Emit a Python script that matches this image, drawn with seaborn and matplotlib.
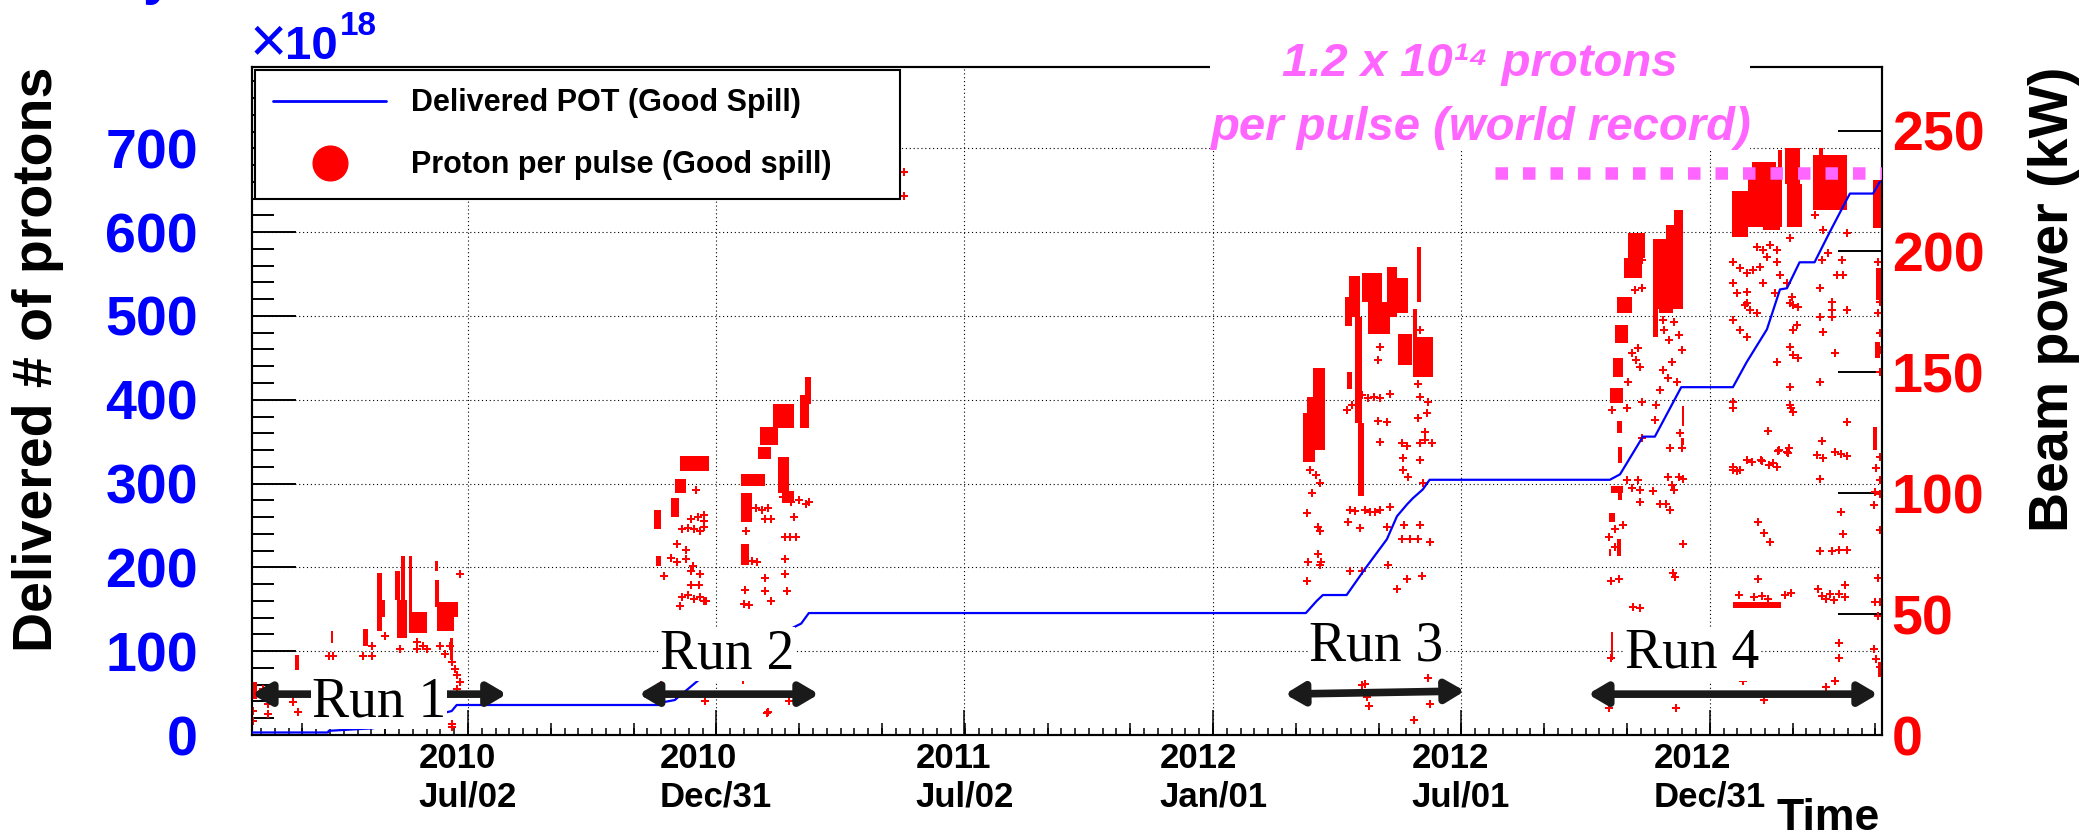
import numpy as np
import pandas as pd
import matplotlib
matplotlib.use("Agg")
import matplotlib.pyplot as plt
from matplotlib.lines import Line2D
from matplotlib.ticker import MultipleLocator, FixedLocator, NullLocator
import seaborn as sns

# ---------------------------------------------------------------------------
# Data (x = days since 2010-01-01)
# ---------------------------------------------------------------------------
EPOCH = pd.Timestamp("2010-01-01")

tick_dates = ["2010-07-02", "2010-12-31", "2011-07-02",
              "2012-01-01", "2012-07-01", "2012-12-31"]
tick_labels = ["2010\nJul/02", "2010\nDec/31", "2011\nJul/02",
               "2012\nJan/01", "2012\nJul/01", "2012\nDec/31"]

# cumulative delivered protons on target (x 1e18)
pot_day = [23, 79, 79.6, 112, 146, 170, 173.7, 324.5, 326, 334, 352.4, 389,
           427, 432.6, 798, 806, 810.5, 828, 841.4, 857.6, 865, 872.3, 876.7,
           884, 889, 1021.5, 1029, 1045.8, 1054.6, 1074, 1112, 1122, 1137,
           1146.6, 1151.7, 1161, 1172, 1183, 1193, 1198, 1215, 1220]
pot_1e18 = [3, 3, 5, 8, 19, 28.6, 35.8, 35.8, 39.3, 41.7, 66.7, 102,
            133, 145.5, 145.5, 160, 167, 167, 198, 233.6, 261, 275, 282.5,
            293, 304.5, 304.5, 311, 356, 356, 415, 415, 444.6, 484,
            531.6, 533, 564, 564, 599.5, 630.5, 646, 646, 660]

# dense groups of good spills: (first day, last day, low kW, high kW)
run1_clusters = [(23, 27, 15, 22), (55, 58, 27, 33), (81, 83, 38, 43),
                 (104.5, 108.5, 37, 44), (115, 119, 43, 67), (115, 121, 49, 56),
                 (128, 132, 56, 68), (129.5, 137, 40, 56), (133, 135.5, 42, 74),
                 (138.5, 140.5, 42, 74), (139, 152, 42, 51), (157.5, 160, 68, 72),
                 (157.5, 161, 53, 64), (159, 172, 43, 55), (168.5, 175, 49, 55),
                 (168.5, 171, 31, 40)]
run2_clusters = [(319, 324, 85, 93), (320, 324, 70, 74), (331, 337.5, 90, 98),
                 (334, 342, 100, 106), (338, 359, 109, 115.5), (383, 400, 103, 108),
                 (383, 391, 88, 100), (383, 388.5, 70.5, 79), (395, 404.5, 114, 119),
                 (396.5, 410, 120, 127.5), (406, 421.5, 127, 137), (410, 418, 100, 115),
                 (413, 421.5, 96, 101), (426, 432.5, 127, 140.5), (429.5, 434, 137, 148)]
run3_clusters = [(796, 801, 113, 133), (799, 804.5, 113, 140), (803, 812, 118, 152),
                 (826.5, 832, 169, 181), (830, 837.5, 173, 190), (834, 839, 129, 173),
                 (836.5, 841, 99, 129), (839, 854, 179, 191), (843.5, 860, 166, 179),
                 (857.5, 865, 173, 193.5), (862, 873, 174.5, 189), (865.5, 876, 153, 166),
                 (876.5, 891.5, 148, 164.5), (880, 883, 179, 202),
                 (876.5, 879.5, 164.5, 176), (828.5, 832, 143, 150)]
run4_clusters = [(1021, 1025, 88, 92), (1022, 1031, 100, 103), (1026.5, 1029.5, 74, 81),
                 (1022, 1023.5, 31, 42.5), (1021, 1022.5, 74, 77),
                 (1021.5, 1031, 137.5, 143.5), (1023.5, 1031, 148, 156),
                 (1025, 1035, 162, 169.5), (1027, 1038, 174.5, 181),
                 (1032, 1045, 189, 197.5), (1035, 1047, 197.5, 207.5),
                 (1026.5, 1030.5, 125, 130), (1027.5, 1030.5, 112.5, 119),
                 (1027.5, 1030.5, 97, 103),
                 (1053, 1057, 164.5, 205), (1057, 1075, 176, 191), (1056, 1066, 191, 205),
                 (1063, 1075, 191, 211), (1069, 1075.2, 205, 217), (1058, 1068, 174.5, 181),
                 (1074.5, 1076, 128, 136), (1074, 1076, 120, 123),
                 (1111, 1123, 206, 225), (1123, 1137, 210, 232.7), (1126, 1144, 226.5, 237),
                 (1134, 1146.5, 209, 235), (1145, 1148, 210, 242), (1150, 1161, 228, 243),
                 (1151.5, 1162.5, 210, 228), (1171, 1196, 217, 240), (1175, 1178, 240, 243),
                 (1215, 1222, 209.5, 229.5), (1217.5, 1220.5, 180, 193),
                 (1216.5, 1220, 156, 162.5), (1215, 1218, 118, 127.5),
                 (1112, 1147, 52.5, 55), (1219, 1221, 24, 30)]

# individual good spills: (day, kW)
run1_spills = [(23.7, 9.9), (23.7, 5.8), (31.1, 19.0), (31.1, 17.7), (34.8, 12.8),
               (34.8, 8.7), (53.1, 13.6), (56.8, 9.5), (79.6, 32.6), (82.6, 32.6),
               (104.6, 32.6), (111.2, 36.7), (111.2, 32.6), (120.8, 40.8), (131.8, 35.5),
               (144.3, 38.4), (144.3, 35.5), (148.7, 36.7), (151.7, 35.5), (161.2, 36.7),
               (164.9, 33.4), (168.6, 36.7), (176.0, 66.4), (170.1, 30.1), (172.3, 27.2),
               (173.7, 24.8), (176.0, 21.9), (173.7, 19.0), (170.1, 4.5), (170.5, 3.5)]
run2_spills = [(325.9, 65.6), (331.2, 73.4), (335.5, 71.4), (339.2, 85.0), (343.6, 85.8),
               (348.0, 85.0), (352.4, 84.2), (355.4, 86.2), (345.8, 89.5), (351.0, 90.3),
               (355.4, 88.7), (335.5, 78.8), (342.1, 76.7), (342.1, 72.6), (347.3, 70.1),
               (352.4, 66.4), (345.8, 68.0), (339.2, 57.0), (343.6, 57.8), (348.0, 56.1),
               (352.4, 57.0), (355.4, 55.3), (345.8, 61.9), (351.7, 61.9), (337.7, 53.2),
               (349.5, 101.5), (355.4, 91.2), (356.9, 55.3), (385.5, 59.8), (384.8, 54.0),
               (388.4, 53.6), (386.2, 84.2), (390.6, 71.8), (394.3, 71.4), (393.6, 94.0),
               (398.0, 93.2), (402.4, 94.0), (400.2, 89.5), (404.6, 89.5), (400.2, 64.8),
               (400.2, 59.4), (404.6, 55.3), (414.9, 81.7), (418.6, 81.7), (423.0, 81.7),
               (414.9, 73.0), (414.9, 66.4), (416.4, 59.4), (421.5, 90.3), (425.2, 97.4),
               (430.4, 95.7), (432.6, 96.5), (419.3, 96.5), (413.4, 98.6),
               (324.1, 21.0), (334.8, 16.1), (356.1, 14.0), (384.0, 22.7), (402.8, 9.5),
               (418.2, 14.0), (401.7, 8.9)]
run3_spills = [(808.3, 104.4), (802.4, 100.2), (798.7, 92.0), (806.8, 86.2), (808.3, 84.2),
               (799.5, 71.4), (809.0, 71.4), (798.7, 63.5), (806.8, 74.7), (801.0, 109.7),
               (805.4, 107.7), (830.4, 93.2), (829.0, 87.9), (837.7, 85.8), (830.4, 67.7),
               (839.2, 67.7), (834.0, 92.8), (841.4, 93.2), (845.0, 92.4), (848.8, 92.4),
               (852.4, 93.2), (839.2, 140.7), (843.6, 139.4), (848.0, 139.9), (852.4, 139.4),
               (859.8, 141.0), (828.2, 134.5), (831.9, 136.6), (850.9, 155.0), (852.4, 160.5),
               (850.9, 130.0), (852.4, 121.3), (857.6, 129.5), (859.8, 94.5), (857.6, 86.2),
               (858.4, 70.5), (865.0, 60.2), (868.6, 120.9), (872.3, 119.6), (869.3, 114.7),
               (869.3, 109.7), (873.0, 106.8), (868.6, 80.9), (870.1, 87.0), (872.3, 64.4),
               (874.5, 80.9), (880.4, 145.2), (880.4, 131.2), (881.8, 139.9), (881.8, 167.5),
               (881.8, 120.9), (885.5, 122.1), (890.6, 120.9), (881.8, 113.9), (885.5, 125.4),
               (887.0, 133.3), (887.7, 137.8), (887.7, 149.8), (884.0, 155.1), (881.8, 87.0),
               (880.4, 80.9), (889.2, 80.0), (883.3, 65.6), (884.0, 104.4), (887.7, 23.5),
               (841.4, 21.0), (842.9, 15.7), (839.2, 20.6), (844.3, 12.0), (877.4, 6.2),
               (889.2, 12.8), (808.3, 70.5)]
run4_spills = [(1023.0, 134.5), (1034.0, 135.3), (1034.8, 146.0), (1037.7, 158.0),
               (1040.6, 155.1), (1043.6, 152.2), (1040.0, 184.0), (1045.0, 184.8),
               (1042.0, 160.0), (1034.0, 105.6), (1037.7, 102.3), (1043.6, 101.5),
               (1045.0, 137.8), (1036.3, 194.3), (1041.4, 191.4), (1045.0, 196.4),
               (1038.5, 52.8), (1043.6, 52.4), (1043.6, 96.5), (1042.0, 105.6),
               (1036.3, 38.0), (1022.3, 31.8), (1020.8, 11.1), (1022.3, 63.5),
               (1027.9, 64.4), (1020.8, 81.7), (1025.2, 77.6), (1025.2, 85.0),
               (1031.0, 87.0), (1053.6, 101.0), (1055.8, 136.6), (1058.3, 142.7),
               (1060.5, 151.0), (1064.2, 147.7), (1067.1, 154.3), (1070.8, 146.0),
               (1061.2, 167.5), (1064.8, 163.4), (1068.5, 170.8), (1072.2, 165.4),
               (1060.5, 171.6), (1074.5, 159.2), (1073.0, 125.0), (1074.5, 118.8),
               (1065.6, 118.8), (1054.6, 130.4), (1045.0, 123.0), (1064.0, 106.8),
               (1067.0, 103.5), (1069.0, 101.5), (1072.2, 106.8), (1062.7, 95.7),
               (1065.6, 93.2), (1058.3, 95.7), (1067.9, 67.2), (1075.2, 79.2),
               (1075.2, 106.0), (1070.0, 11.1), (1069.4, 65.2), (1020.1, 16.0),
               (1112.0, 137.8), (1112.0, 135.3), (1126.0, 113.0), (1133.3, 113.4),
               (1141.4, 112.6), (1144.3, 111.0), (1112.0, 109.7), (1117.0, 109.7),
               (1122.3, 113.9), (1137.7, 125.8), (1145.0, 117.6), (1152.4, 116.7),
               (1153.9, 144.0), (1153.9, 136.6), (1156.1, 133.7), (1144.3, 154.3),
               (1153.9, 178.6), (1159.8, 177.0), (1156.1, 167.5), (1156.1, 157.2),
               (1159.8, 155.9), (1112.0, 195.5), (1117.0, 193.0), (1122.3, 191.0),
               (1112.0, 186.9), (1115.0, 182.8), (1122.3, 183.2), (1122.3, 178.6),
               (1120.8, 177.8), (1124.5, 175.7), (1112.0, 171.6), (1117.0, 167.5),
               (1122.3, 164.6), (1129.6, 174.5), (1129.6, 201.7), (1134.0, 200.5),
               (1137.0, 197.6), (1126.6, 192.2), (1131.8, 193.5), (1134.0, 186.9),
               (1139.2, 202.6), (1144.3, 200.5), (1144.3, 195.5), (1146.6, 190.2),
               (1142.9, 182.8), (1156.1, 177.8), (1159.0, 169.6), (1153.9, 160.5),
               (1153.9, 205.4), (1151.7, 186.9), (1155.4, 181.1), (1177.4, 196.4),
               (1181.8, 199.3), (1192.1, 196.4), (1175.9, 184.8), (1184.8, 179.0),
               (1184.8, 175.7), (1184.8, 172.9), (1188.5, 190.2), (1193.0, 190.2),
               (1195.8, 175.7), (1175.9, 172.9), (1178.1, 166.7), (1175.9, 146.0),
               (1187.0, 158.0), (1195.8, 129.5), (1195.8, 207.5), (1172.3, 214.9),
               (1178.1, 208.7), (1187.0, 117.2), (1191.4, 116.3), (1195.8, 115.5),
               (1173.7, 115.9), (1178.1, 114.7), (1176.0, 106.0), (1177.4, 121.7),
               (1151.7, 117.2), (1145.8, 118.0), (1153.2, 118.8), (1154.6, 135.3),
               (1190.0, 76.7), (1193.0, 83.0), (1191.4, 92.4), (1184.8, 75.9),
               (1176.0, 75.9), (1195.8, 76.7), (1194.3, 56.9), (1194.3, 61.9),
               (1130.4, 87.9), (1134.8, 83.7), (1139.2, 80.0), (1130.4, 64.4),
               (1116.4, 57.8), (1127.4, 56.9), (1133.3, 57.3), (1137.7, 56.1),
               (1150.2, 57.8), (1154.6, 58.6), (1174.5, 60.2), (1177.4, 57.3),
               (1180.4, 56.1), (1183.3, 58.2), (1186.3, 55.7), (1190.0, 58.2),
               (1119.3, 22.3), (1134.8, 14.4), (1190.0, 31.8), (1190.0, 38.0),
               (1187.0, 22.3), (1180.4, 19.8), (1112.0, 111.0), (1115.0, 109.3),
               (1132.6, 113.9), (1138.5, 111.8), (1218.6, 195.5), (1220.0, 179.0),
               (1218.6, 174.5), (1220.0, 166.3), (1220.0, 150.2), (1220.0, 115.1),
               (1220.0, 105.6), (1216.4, 100.7), (1215.6, 95.3), (1217.1, 110.6),
               (1220.0, 99.8), (1220.0, 84.6), (1220.0, 54.9), (1218.6, 49.1),
               (1218.6, 64.8), (1216.4, 54.9), (1220.0, 159.2), (1215.6, 35.5),
               (1217.1, 31.4), (1220.0, 28.1)]
stray_spills = [(502.4, 233.0), (502.4, 222.8)]

run_names = ["Run 1", "Run 2", "Run 3", "Run 4"]
run_first_day = [23.2, 307.6, 782.6, 1005.4]
run_last_day = [210.5, 440.0, 914.9, 1218.6]
run_label_day = [67.1, 323.0, 800.2, 1032.6]
run_label_kw = [7.8, 27.6, 30.9, 27.8]

record_kw = 232.3          # 1.2e14 protons per pulse
record_from_day = 937.0

# ---------------------------------------------------------------------------
# Style
# ---------------------------------------------------------------------------
sns.set_style("white")
plt.rcParams["font.family"] = ["Liberation Sans", "DejaVu Sans"]
plt.rcParams.update({
    "axes.edgecolor": "black", "axes.linewidth": 1.5,
    "xtick.color": "black", "ytick.color": "black", "text.color": "black",
})

BLUE = "#0000ff"
RED = "#ff0000"
PINK = "#ff66ff"

fig = plt.figure(figsize=(20.91, 8.40), dpi=100)
ax = fig.add_axes([252 / 2091, 105 / 840, 1630 / 2091, 668 / 840])
ax2 = ax.twinx()

# ---- spills (beam power, right scale) -------------------------------------
clusters = pd.DataFrame(run1_clusters + run2_clusters + run3_clusters + run4_clusters,
                        columns=["d0", "d1", "lo", "hi"])
ax2.bar(clusters["d0"], clusters["hi"] - clusters["lo"], width=clusters["d1"] - clusters["d0"],
        bottom=clusters["lo"], align="edge", color=RED, linewidth=0, zorder=2)

spills = pd.DataFrame(run1_spills + run2_spills + run3_spills + run4_spills + stray_spills,
                      columns=["day", "kw"])
sns.scatterplot(data=spills, x="day", y="kw", ax=ax2, marker="P", s=34, color=RED,
                linewidth=0, legend=False, zorder=2)

# ---- cumulative POT (left scale, drawn above the spills) ------------------
pot = pd.DataFrame({"day": pot_day, "pot": pot_1e18})
sns.lineplot(data=pot, x="day", y="pot", ax=ax2, color=BLUE, linewidth=1.6,
             estimator=None, sort=False, transform=ax.transData, zorder=3)

# ---- world-record reference ------------------------------------------------
ax2.plot([record_from_day, 1221.6], [record_kw, record_kw], color=PINK, linewidth=9,
         linestyle=(0, (1, 1.2)), dash_capstyle="butt", solid_capstyle="butt", zorder=4)

# ---- axes limits / ticks ---------------------------------------------------
XMIN, XMAX = 23.2, 1221.6
major_days = [(pd.Timestamp(d) - EPOCH).days for d in tick_dates]
step = (major_days[-1] - major_days[0]) / 90.0
minor_days = [major_days[0] + step * k for k in range(-20, 110)]
minor_days = [d for d in minor_days if XMIN <= d <= XMAX]
medium_days = [major_days[0] + 6 * step * k for k in range(-4, 20)]
medium_days = [d for d in medium_days if XMIN <= d <= XMAX]

ax.set_xlim(XMIN, XMAX)
ax.set_ylim(0, 797)
ax2.set_ylim(0, 276.3)

ax.set_xticks(major_days, labels=tick_labels, fontsize=25, fontweight="bold")
ax.xaxis.set_minor_locator(FixedLocator(minor_days))
ax.tick_params(axis="x", which="major", direction="in", length=18, width=1.1,
               pad=5, bottom=True, top=False)
ax.tick_params(axis="x", which="minor", direction="in", length=5, width=1.1,
               bottom=True, top=False)

sec = ax.secondary_xaxis("bottom")
sec.set_xticks(medium_days)
sec.tick_params(direction="in", length=8.6, width=1.1, labelbottom=False)
for s in sec.spines.values():
    s.set_visible(False)

ax.set_yticks(list(range(0, 800, 100)), labels=[str(v) for v in range(0, 800, 100)],
              fontsize=40, fontweight="bold", color=BLUE)
ax.yaxis.set_minor_locator(MultipleLocator(20))
ax.tick_params(axis="y", which="major", direction="in", length=32, width=1.4,
               pad=39, left=True, right=False)
ax.tick_params(axis="y", which="minor", direction="in", length=16, width=1.4,
               left=True, right=False)

ax2.set_yticks(list(range(0, 251, 50)), labels=[str(v) for v in range(0, 251, 50)],
               fontsize=40, fontweight="bold", color=RED)
ax2.yaxis.set_minor_locator(NullLocator())
ax2.tick_params(axis="y", which="major", direction="in", length=32, width=1.4,
                pad=7, right=True, left=False)
ax2.set_xlabel("")
ax2.set_ylabel("")
ax.set_xlabel("")
ax.set_ylabel("")

ax.grid(True, which="major", axis="both", color="black", linewidth=0.8,
        linestyle=(0, (1, 2.5)))
for a in (ax, ax2):
    for s in a.spines.values():
        s.set_visible(True)
        s.set_color("black")
        s.set_linewidth(1.5)

# ---- run periods -----------------------------------------------------------
arrow_kw = [16.9, 16.9, 16.9, 16.9]
arrow_kw_end = [16.9, 16.9, 18.2, 16.9]
for name, d0, d1, y0, y1, lx, ly in zip(run_names, run_first_day, run_last_day,
                                         arrow_kw, arrow_kw_end, run_label_day, run_label_kw):
    ax2.annotate("", xy=(d1, y1), xytext=(d0, y0), annotation_clip=False,
                 arrowprops=dict(arrowstyle="<|-|>,head_length=1.1,head_width=0.65",
                                 mutation_scale=10, color="#1a1a1a", lw=5.5,
                                 shrinkA=0, shrinkB=0),
                 zorder=5)
    ax2.text(lx, ly, name, family="Liberation Serif", fontsize=40, ha="left",
             va="baseline", zorder=6,
             bbox=dict(boxstyle="square,pad=0.02", facecolor="white", edgecolor="none"))

# ---- legend ----------------------------------------------------------------
handles = [Line2D([0], [0], color=BLUE, lw=2),
           Line2D([0], [0], marker="o", linestyle="none", color=RED, markersize=25)]
leg = ax2.legend(handles, ["Delivered POT (Good Spill)", "Proton per pulse (Good spill)"],
                 loc="upper left", bbox_to_anchor=(3 / 1630, 538 / 668, 645 / 1630, 127 / 668),
                 mode="expand", borderaxespad=0, borderpad=0.6, labelspacing=1.05,
                 handlelength=3.7, handletextpad=0.8,
                 prop={"size": 22, "weight": "bold"}, frameon=True, fancybox=False,
                 framealpha=1, edgecolor="black", facecolor="white")
leg.get_frame().set_linewidth(1.5)
leg.set_zorder(20)

# ---- titles and annotations ---------------------------------------------
fig.text(38.5 / 2091, 773 / 840, "Delivered # of protons", rotation=90, ha="center",
         va="top", fontsize=40, fontweight="bold")
fig.text(2054 / 2091, 773 / 840, "Beam power (kW)", rotation=90, ha="center",
         va="top", fontsize=40, fontweight="bold")
fig.text(1880 / 2091, 10 / 840, "Time", ha="right", va="baseline", fontsize=32,
         fontweight="bold")

fig.text(250 / 2091, 778 / 840, "\u00d7", ha="left", va="baseline", fontsize=46, color=BLUE)
fig.text(285 / 2091, 781 / 840, "10", ha="left", va="baseline", fontsize=34,
         fontweight="bold", color=BLUE)
fig.text(340 / 2091, 805 / 840, "18", ha="left", va="baseline", fontsize=24,
         fontweight="bold", color=BLUE)
fig.text(143 / 2091, 847 / 840, "y", ha="left", va="baseline", fontsize=40,
         fontweight="bold", color=BLUE)

fig.text(1480 / 2091, 798.4 / 840, "1.2 x 10\u00b9\u2074 protons\nper pulse (world record)",
         ha="center", va="top", multialignment="center", linespacing=1.6,
         fontsize=34, style="italic", fontweight="bold",
         family=["Liberation Sans", "DejaVu Sans"], color=PINK, zorder=30,
         bbox=dict(boxstyle="square,pad=0", facecolor="white", edgecolor="none"))

# two-line date labels: lines left-aligned, block centred on the tick
for lbl in ax.get_xticklabels():
    lbl.set_multialignment("left")
    lbl.set_linespacing(1.2)

fig.savefig("out.png", dpi=100)
